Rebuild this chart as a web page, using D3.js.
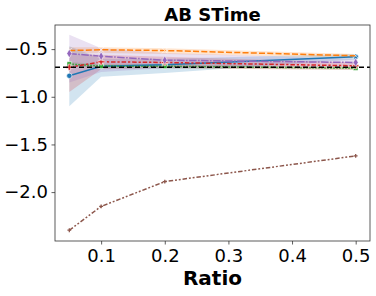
<!DOCTYPE html>
<html>
<head>
<meta charset="utf-8">
<script src="https://cdn.jsdelivr.net/npm/d3@7"></script>
<style>
  body { margin: 0; background: #fff; }
  svg { display: block; font-family: "DejaVu Sans", sans-serif; }
</style>
</head>
<body>
<div id="chart"></div>
<script>
// data
const ratios = [0.05, 0.1, 0.2, 0.5];
const xTicks = [0.1, 0.2, 0.3, 0.4, 0.5];
const yTicks = [-0.5, -1.0, -1.5, -2.0];
const refLine = -0.69;

const blueMean = [-0.78, -0.68, -0.665, -0.58];
const blueLo = [-1.10, -0.79, -0.75, -0.61];
const blueHi = [-0.47, -0.60, -0.60, -0.55];

const orangeMean = [-0.515, -0.507, -0.515, -0.57];
const orangeLo = [-0.55, -0.54, -0.55, -0.59];
const orangeHi = [-0.48, -0.48, -0.49, -0.55];

const greenMean = [-0.657, -0.678, -0.68, -0.70];
const greenLo = [-0.68, -0.70, -0.70, -0.715];
const greenHi = [-0.635, -0.66, -0.66, -0.685];

const redMean = [-0.69, -0.633, -0.64, -0.675];
const redLo = [-0.95, -0.71, -0.70, -0.72];
const redHi = [-0.55, -0.56, -0.58, -0.64];

const purpleMean = [-0.546, -0.574, -0.616, -0.64];
const purpleLo = [-0.85, -0.74, -0.70, -0.68];
const purpleHi = [-0.35, -0.49, -0.54, -0.60];

const brownMean = [-2.40, -2.15, -1.89, -1.62];

const series = [
  {color: "#1f77b4", mean: blueMean, lo: blueLo, hi: blueHi, dash: null, marker: "circle"},
  {color: "#ff7f0e", mean: orangeMean, lo: orangeLo, hi: orangeHi, dash: "6,2.25", marker: "x"},
  {color: "#2ca02c", mean: greenMean, lo: greenLo, hi: greenHi, dash: "1.5,1.5", marker: "square"},
  {color: "#d62728", mean: redMean, lo: redLo, hi: redHi, dash: "4.5,1.9,2.25,1.9", marker: "plus"},
  {color: "#9467bd", mean: purpleMean, lo: purpleLo, hi: purpleHi, dash: "7.5,1.5,1.5,1.5", marker: "diamond"},
  {color: "#8c564b", mean: brownMean, lo: null, hi: null, dash: "4.5,1.9,1.9,1.9,1.9,1.9", marker: "star"}
];

const W = 376, H = 296;
const m = {top: 25, right: 6, bottom: 55, left: 55};

const svg = d3.select("#chart").append("svg")
  .attr("width", W)
  .attr("height", H);

const x = d3.scaleLinear().domain([0.0275, 0.5225]).range([m.left, W - m.right]);
const y = d3.scaleLinear().domain([-2.513, -0.247]).range([H - m.bottom, m.top]);

const plot = svg.append("g");

// bands
series.forEach(s => {
  if (!s.lo) return;
  const area = d3.area()
    .x((d, i) => x(ratios[i]))
    .y0((d, i) => y(s.lo[i]))
    .y1((d, i) => y(s.hi[i]));
  plot.append("path")
    .datum(s.mean)
    .attr("d", area)
    .attr("fill", s.color)
    .attr("fill-opacity", 0.2)
    .attr("stroke", "none");
});

// lines and markers
const symbols = {
  circle: d3.symbolCircle,
  x: d3.symbolTimes,
  diamond: d3.symbolDiamond,
  plus: d3.symbolCross,
  square: d3.symbolSquare,
  star: d3.symbolCross
};

series.forEach(s => {
  const line = d3.line()
    .x((d, i) => x(ratios[i]))
    .y(d => y(d));
  plot.append("path")
    .datum(s.mean)
    .attr("d", line)
    .attr("fill", "none")
    .attr("stroke", s.color)
    .attr("stroke-width", 1.5)
    .attr("stroke-dasharray", s.dash);

  plot.selectAll(null)
    .data(s.mean)
    .enter()
    .append("path")
    .attr("transform", (d, i) => `translate(${x(ratios[i])},${y(d)})`)
    .attr("d", d3.symbol().type(symbols[s.marker]).size(s.marker === "star" ? 8 : 22))
    .attr("fill", s.color)
    .attr("stroke", s.marker === "star" ? "none" : "#fff")
    .attr("stroke-width", 0.6);
});

// reference line
plot.append("line")
  .attr("x1", m.left)
  .attr("x2", W - m.right)
  .attr("y1", y(refLine))
  .attr("y2", y(refLine))
  .attr("stroke", "#000")
  .attr("stroke-width", 1.5)
  .attr("stroke-dasharray", "5,3");

// axes
const xAxis = d3.axisBottom(x).tickValues(xTicks).tickFormat(d3.format(".1f")).tickSizeOuter(0).tickSize(3.5).tickPadding(5);
const yAxis = d3.axisLeft(y).tickValues(yTicks).tickFormat(d3.format(".1f")).tickSizeOuter(0).tickSize(3.5).tickPadding(3.5);

const gx = svg.append("g")
  .attr("transform", `translate(0,${H - m.bottom})`)
  .call(xAxis);
const gy = svg.append("g")
  .attr("transform", `translate(${m.left},0)`)
  .call(yAxis);

[gx, gy].forEach(g => {
  g.select(".domain").remove();
  g.selectAll("line").attr("stroke", "#333").attr("stroke-width", 0.8);
  g.selectAll("text").attr("font-size", 18).attr("fill", "#000")
    .attr("font-family", "DejaVu Sans");
});

// frame
svg.append("rect")
  .attr("x", m.left)
  .attr("y", m.top)
  .attr("width", W - m.left - m.right)
  .attr("height", H - m.top - m.bottom)
  .attr("fill", "none")
  .attr("stroke", "#333")
  .attr("stroke-width", 0.8);

svg.append("text")
  .attr("x", (m.left + W - m.right) / 2)
  .attr("y", 20.5)
  .attr("text-anchor", "middle")
  .attr("font-size", 18)
  .attr("font-weight", "bold")
  .text("AB STime");

svg.append("text")
  .attr("x", (m.left + W - m.right) / 2)
  .attr("y", 285)
  .attr("text-anchor", "middle")
  .attr("font-size", 20)
  .attr("font-weight", "bold")
  .text("Ratio");
</script>
</body>
</html>
